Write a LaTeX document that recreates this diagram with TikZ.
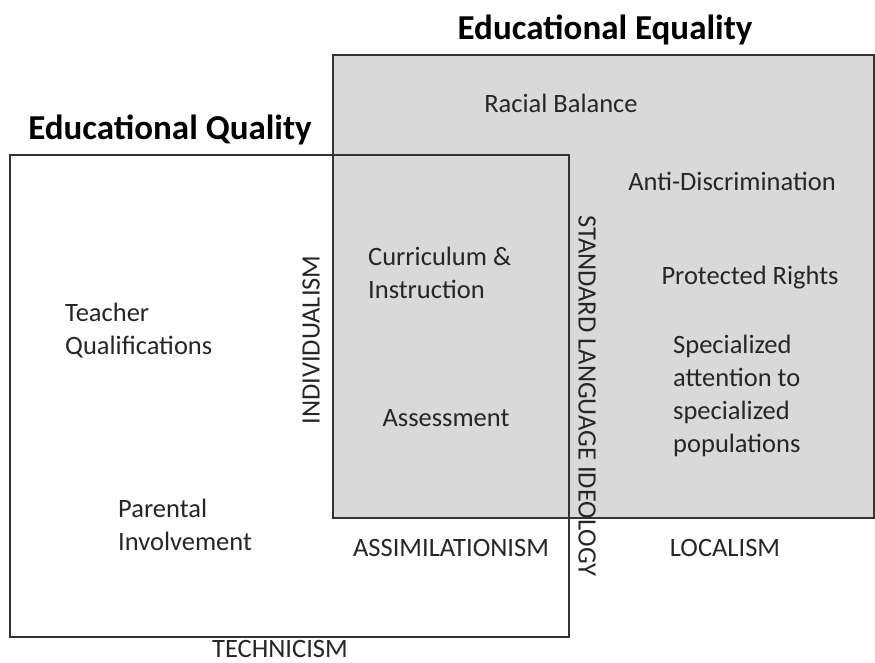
\documentclass[tikz,border=0pt]{standalone}
\usepackage{fontspec}
\setmainfont{Carlito}
\begin{document}
\begin{tikzpicture}[x=1pt,y=-1pt,
  lbl/.style={font=\fontsize{26.5}{33}\selectfont, text=black!85, inner sep=0pt},
  lblleft/.style={lbl, align=left, anchor=west},
  title/.style={font=\fontsize{35}{40}\selectfont\bfseries, inner sep=0pt},
  box/.style={draw=black!80, line width=1.4pt}]
\useasboundingbox (0,0) rectangle (875,663);
% grey (equality) box
\fill[black!15] (333,55) rectangle (874,518);
\draw[box] (333,55) rectangle (874,518);
% quality box outline
\draw[box] (10,155) rectangle (569,637);
% titles
\node[title] (eq) at (605,30) {Educational Equality};
\node[title] (qu) at (170,130) {Educational Quality};
% labels
\node[lbl] (racial) at (561,103) {Racial Balance};
\node[lbl] (anti) at (732,181) {Anti-Discrimination};
\node[lblleft] (curr) at (368,273) {Curriculum \&\\Instruction};
\node[lbl] (prot) at (750,278) {Protected Rights};
\node[lblleft] (teach) at (65,331) {Teacher\\Qualifications};
\node[lblleft] (spec) at (673,396) {Specialized\\attention to\\specialized\\populations};
\node[lbl] (assess) at (446,418) {Assessment};
\node[lbl, rotate=90] (indiv) at (311,340) {INDIVIDUALISM};
\node[lbl, rotate=-90] (std) at (587,396) {STANDARD LANGUAGE IDEOLOGY};
\node[lblleft] (parent) at (118,525) {Parental\\Involvement};
\node[lbl] (assim) at (451,548) {ASSIMILATIONISM};
\node[lbl] (local) at (725,548) {LOCALISM};
\node[lbl] (tech) at (280,649) {TECHNICISM};
\end{tikzpicture}
\end{document}
